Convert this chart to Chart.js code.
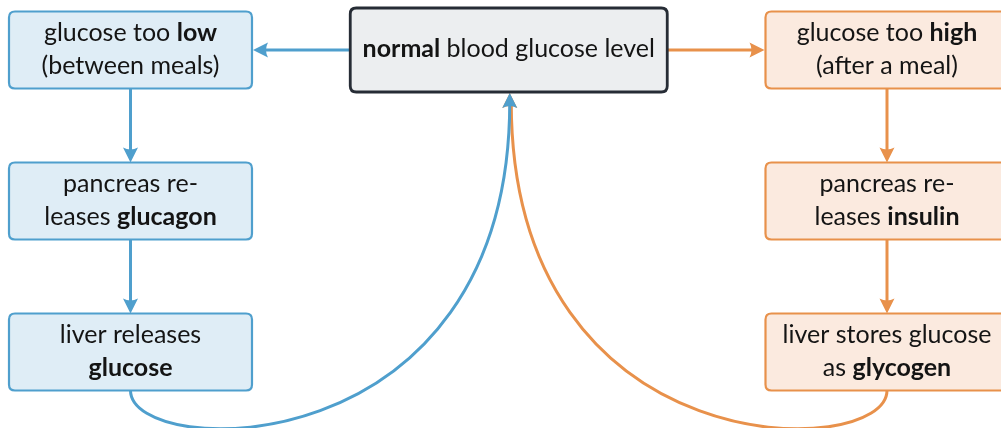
<!DOCTYPE html>
<html>
<head>
<meta charset="utf-8">
<script src="https://cdn.jsdelivr.net/npm/chart.js@4"></script>
<style>
  html, body { margin: 0; padding: 0; background: #fff; }
  canvas { display: block; }
</style>
</head>
<body>
<canvas id="flowChart" width="1001" height="428"></canvas>
<script>
// Node labels (**word** = bold), grid column / row of each node
const nodeLabels = [
  ["**normal** blood glucose level"],
  ["glucose too **low**", "(between meals)"],
  ["pancreas re-", "leases **glucagon**"],
  ["liver releases", "**glucose**"],
  ["glucose too **high**", "(after a meal)"],
  ["pancreas re-", "leases **insulin**"],
  ["liver stores glucose", "as **glycogen**"],
];
const nodeCol = [1, 0, 0, 0, 2, 2, 2];
const nodeRow = [0, 0, 1, 2, 0, 1, 2];
const nodeGroup = ["center", "low", "low", "low", "high", "high", "high"];

// Straight arrows and the two return loops
const edgeFrom = [0, 1, 2, 0, 4, 5];
const edgeTo = [1, 2, 3, 4, 5, 6];
const loopFrom = [6, 3];
const loopTo = [0, 0];

const colors = {
  low: { stroke: "#4f9fcd", fill: "#dfedf6" },
  high: { stroke: "#e8914b", fill: "#fbeadf" },
  center: { stroke: "#262c35", fill: "#eceef0" },
};
const FONT = "Lato, 'Open Sans', sans-serif";
const FONT_SIZE = 25;

function boxSize(i) {
  return nodeGroup[i] === "center" ? { w: 317, h: 84 } : { w: 243, h: 77 };
}

function nodeCenter(chart, i) {
  const { x, y } = chart.scales;
  return { x: x.getPixelForValue(nodeCol[i]), y: y.getPixelForValue(nodeRow[i]) };
}

function roundRect(ctx, x, y, w, h, r) {
  ctx.beginPath();
  ctx.moveTo(x + r, y);
  ctx.lineTo(x + w - r, y);
  ctx.quadraticCurveTo(x + w, y, x + w, y + r);
  ctx.lineTo(x + w, y + h - r);
  ctx.quadraticCurveTo(x + w, y + h, x + w - r, y + h);
  ctx.lineTo(x + r, y + h);
  ctx.quadraticCurveTo(x, y + h, x, y + h - r);
  ctx.lineTo(x, y + r);
  ctx.quadraticCurveTo(x, y, x + r, y);
  ctx.closePath();
}

function parseLine(line) {
  return line.split(/(\*\*[^*]+\*\*)/).filter(Boolean).map((s) =>
    s.startsWith("**") ? { text: s.slice(2, -2), bold: true } : { text: s, bold: false }
  );
}

function drawRichLine(ctx, line, cx, baseline) {
  const parts = parseLine(line);
  let total = 0;
  parts.forEach((p) => {
    ctx.font = (p.bold ? "bold " : "") + FONT_SIZE + "px " + FONT;
    p.w = ctx.measureText(p.text).width;
    total += p.w;
  });
  let x = cx - total / 2;
  parts.forEach((p) => {
    ctx.font = (p.bold ? "bold " : "") + FONT_SIZE + "px " + FONT;
    ctx.fillText(p.text, x, baseline);
    x += p.w;
  });
}

// stealth-like arrow head, tip at (x, y), pointing along angle
function arrowHead(ctx, x, y, angle, color) {
  const L = 15, W = 7.5, back = 4;
  ctx.save();
  ctx.translate(x, y);
  ctx.rotate(angle);
  ctx.beginPath();
  ctx.moveTo(0, 0);
  ctx.lineTo(-L, -W);
  ctx.quadraticCurveTo(-L + back, 0, -L, W);
  ctx.closePath();
  ctx.fillStyle = color;
  ctx.fill();
  ctx.restore();
}

const flowPlugin = {
  id: "flow",
  afterDatasetsDraw(chart) {
    const ctx = chart.ctx;
    ctx.save();
    ctx.lineCap = "butt";

    // return loops (orange first, blue on top)
    loopFrom.forEach((from, k) => {
      const a = nodeCenter(chart, from);
      const b = nodeCenter(chart, loopTo[k]);
      const sa = boxSize(from), sb = boxSize(loopTo[k]);
      const color = colors[nodeGroup[from]].stroke;
      const x0 = a.x, y0 = a.y + sa.h / 2;
      const tipX = b.x + 1, tipY = b.y + sb.h / 2 + 1;
      const endX = nodeGroup[from] === "high" ? tipX + 1.5 : tipX;
      ctx.beginPath();
      ctx.moveTo(x0, y0);
      ctx.bezierCurveTo(x0, y0 + 70, endX, y0 + 80, endX, tipY + 9);
      ctx.strokeStyle = color;
      ctx.lineWidth = 3;
      ctx.stroke();
      arrowHead(ctx, tipX, tipY, -Math.PI / 2, color);
    });

    // straight arrows
    edgeFrom.forEach((from, k) => {
      const to = edgeTo[k];
      const a = nodeCenter(chart, from), b = nodeCenter(chart, to);
      const sa = boxSize(from), sb = boxSize(to);
      const color = colors[nodeGroup[to]].stroke;
      let x0, y0, x1, y1, ang;
      if (nodeRow[from] === nodeRow[to]) {
        const dir = Math.sign(b.x - a.x);
        x0 = a.x + dir * sa.w / 2; y0 = a.y;
        x1 = b.x - dir * sb.w / 2 - dir; y1 = b.y;
        ang = dir > 0 ? 0 : Math.PI;
      } else {
        x0 = a.x; y0 = a.y + sa.h / 2;
        x1 = b.x; y1 = b.y - sb.h / 2;
        ang = Math.PI / 2;
      }
      ctx.beginPath();
      ctx.moveTo(x0, y0);
      ctx.lineTo(x1 - 9 * Math.cos(ang), y1 - 9 * Math.sin(ang));
      ctx.strokeStyle = color;
      ctx.lineWidth = 3;
      ctx.stroke();
      arrowHead(ctx, x1, y1, ang, color);
    });

    // boxes and labels
    nodeLabels.forEach((lines, i) => {
      const c = nodeCenter(chart, i);
      const s = boxSize(i);
      const col = colors[nodeGroup[i]];
      roundRect(ctx, c.x - s.w / 2, c.y - s.h / 2, s.w, s.h, 6);
      ctx.fillStyle = col.fill;
      ctx.fill();
      ctx.strokeStyle = col.stroke;
      ctx.lineWidth = nodeGroup[i] === "center" ? 2.8 : 2.2;
      ctx.stroke();

      ctx.fillStyle = "#141414";
      ctx.textBaseline = "alphabetic";
      const gap = 33;
      lines.forEach((line, j) => {
        const off = (j - (lines.length - 1) / 2) * gap;
        drawRichLine(ctx, line, c.x, c.y + off + 7);
      });
    });
    ctx.restore();
  },
};

new Chart(document.getElementById("flowChart"), {
  type: "scatter",
  data: {
    datasets: [
      {
        data: nodeCol.map((c, i) => ({ x: c, y: nodeRow[i] })),
        pointRadius: 0,
        showLine: false,
      },
    ],
  },
  options: {
    responsive: false,
    animation: false,
    layout: { padding: 0 },
    plugins: { legend: { display: false }, tooltip: { enabled: false } },
    scales: {
      x: { type: "linear", min: -0.34501, max: 2.30139, display: false },
      y: { type: "linear", min: -0.33113, max: 2.50331, reverse: true, display: false },
    },
  },
  plugins: [flowPlugin],
});
</script>
</body>
</html>
